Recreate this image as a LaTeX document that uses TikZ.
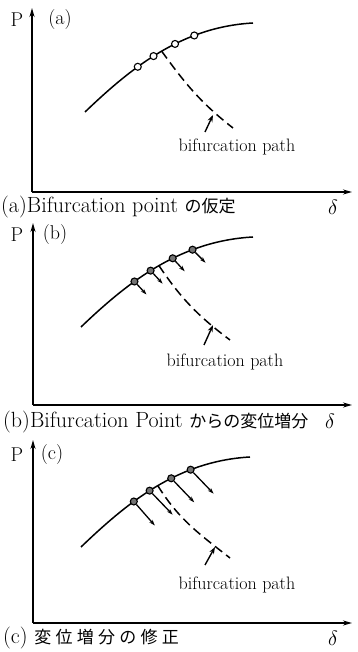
\documentclass[tikz,border=0pt]{standalone}
\usepackage{fontspec}
\newfontfamily\jfont{Noto Sans CJK JP}
\usetikzlibrary{arrows.meta}

\begin{document}
\begin{tikzpicture}[x=1pt, y=1pt, >={Stealth[length=9pt,width=5pt]},
  axis/.style={line width=1.8pt},
  loadcurve/.style={line width=1.5pt},
  bifpath/.style={line width=1.5pt, dash pattern=on 9pt off 5pt},
  bpoint/.style={circle, draw, line width=1.1pt, inner sep=0pt, minimum size=7pt, fill=white},
  dpoint/.style={bpoint, fill=black!55},
  incr/.style={line width=1.3pt, ->, >={Stealth[length=6pt,width=4pt]}},
  pointer/.style={line width=1.4pt, ->, >={Stealth[length=7pt,width=5pt]}},
  axlabel/.style={font=\fontsize{20}{23}\selectfont, inner sep=0pt},
  dlabel/.style={font=\fontsize{21}{24}\selectfont, inner sep=0pt},
  pathlabel/.style={font=\fontsize{18}{21}\selectfont, inner sep=0pt},
  caption/.style={font=\fontsize{22}{26}\selectfont, inner sep=0pt, anchor=west}]
  \useasboundingbox (0,0) rectangle (357,652);

  % (a)
  \begin{scope}[shift={(32,460)}]
    \coordinate (oa) at (0,0);
    \draw[axis,->] (oa) -- (0,184);
    \draw[axis,->] (oa) -- (320,0);
    \node[axlabel] (pa) at (-15,172) {P};
    \node[axlabel] (la) at (28,172) {(a)};
    \draw[loadcurve] (53,80) .. controls (100,125) and (150,165) .. (221,169)
      coordinate[pos=0.36] (ka1) coordinate[pos=0.46] (ka2)
      coordinate[pos=0.51] (ja) coordinate[pos=0.59] (ka3) coordinate[pos=0.70] (ka4);
    \draw[bifpath] (ja) to[out=-54,in=142] (201,64);
    \node[bpoint] (a1) at (ka1) {};
    \node[bpoint] (a2) at (ka2) {};
    \node[bpoint] (a3) at (ka3) {};
    \node[bpoint] (a4) at (ka4) {};
    \node[pathlabel] (pla) at (205,45) {bifurcation path};
    \coordinate (ta) at (173,60);
    \coordinate (ha) at (181,77);
    \draw[pointer] (ta) -- (ha);
    \node[caption] (capa) at (-31,-15) {(a)Bifurcation point {\jfont\fontsize{17}{20}\selectfont の仮定}};
    \node[dlabel] (da) at (301,-15) {$\delta$};
  \end{scope}

  % (b)
  \begin{scope}[shift={(33,247)}]
    \coordinate (ob) at (0,0);
    \draw[axis,->] (ob) -- (0,182);
    \draw[axis,->] (ob) -- (319,0);
    \node[axlabel] (pb) at (-16,170) {P};
    \node[axlabel] (lb) at (22,170) {(b)};
    \draw[loadcurve] (48,78) .. controls (95,123) and (147,164) .. (220,168)
      coordinate[pos=0.36] (kb1) coordinate[pos=0.46] (kb2)
      coordinate[pos=0.51] (jb) coordinate[pos=0.59] (kb3) coordinate[pos=0.70] (kb4);
    \draw[bifpath] (jb) to[out=-56,in=143] (197,65);
    \node[dpoint] (b1) at (kb1) {};
    \node[dpoint] (b2) at (kb2) {};
    \node[dpoint] (b3) at (kb3) {};
    \node[dpoint] (b4) at (kb4) {};
    \draw[incr] (b1) -- ++(12,-13);
    \draw[incr] (b2) -- ++(12,-13);
    \draw[incr] (b3) -- ++(12,-13);
    \draw[incr] (b4) -- ++(13,-13);
    \node[pathlabel] (plb) at (192,43) {bifurcation path};
    \coordinate (tb) at (171,60);
    \coordinate (hb) at (180,80);
    \draw[pointer] (tb) -- (hb);
    \node[caption] (capb) at (-30,-17) {(b)Bifurcation Point {\jfont\fontsize{17}{20}\selectfont からの変位増分}};
    \node[dlabel] (db) at (297,-16) {$\delta$};
  \end{scope}

  % (c)
  \begin{scope}[shift={(33,29)}]
    \coordinate (oc) at (0,0);
    \draw[axis,->] (oc) -- (0,183);
    \draw[axis,->] (oc) -- (319,0);
    \node[axlabel] (pc) at (-16,168) {P};
    \node[axlabel] (lc) at (19,168) {(c)};
    \draw[loadcurve] (48,76) .. controls (95,121) and (145,162) .. (217,166)
      coordinate[pos=0.36] (kc1) coordinate[pos=0.46] (kc2)
      coordinate[pos=0.51] (jc) coordinate[pos=0.59] (kc3) coordinate[pos=0.70] (kc4);
    \draw[bifpath] (jc) to[out=-58,in=142] (197,65);
    \node[dpoint] (c1) at (kc1) {};
    \node[dpoint] (c2) at (kc2) {};
    \node[dpoint] (c3) at (kc3) {};
    \node[dpoint] (c4) at (kc4) {};
    \draw[incr] (c1) -- ++(21,-24);
    \draw[incr] (c2) -- ++(23,-24);
    \draw[incr] (c3) -- ++(23,-24);
    \draw[incr] (c4) -- ++(23,-24);
    \node[pathlabel] (plc) at (204,38) {bifurcation path};
    \coordinate (tc) at (172,58);
    \coordinate (hc) at (182,76);
    \draw[pointer] (tc) -- (hc);
    \node[caption] (capc) at (-30,-15) {(c) {\jfont\fontsize{17}{20}\selectfont\addfontfeature{LetterSpace=25}変位増分の修正}};
    \node[dlabel] (dc) at (300,-15) {$\delta$};
  \end{scope}
\end{tikzpicture}
\end{document}
